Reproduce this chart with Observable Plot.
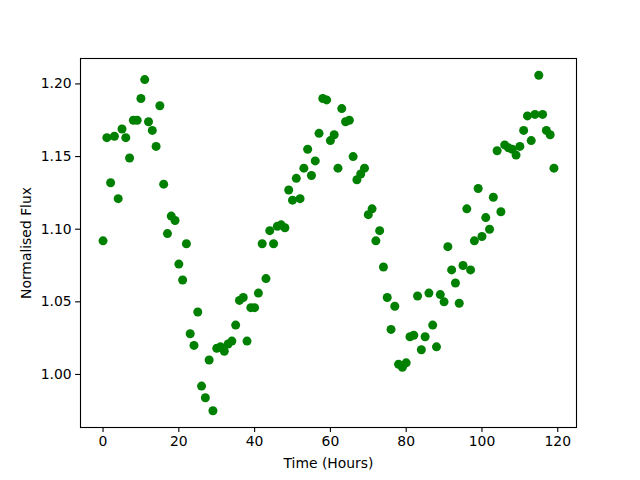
<!DOCTYPE html>
<html>
<head>
<meta charset="utf-8">
<script src="https://cdn.jsdelivr.net/npm/d3@7"></script>
<script src="https://cdn.jsdelivr.net/npm/@observablehq/plot@0.6"></script>
<style>
  html, body { margin: 0; padding: 0; background: #fff; }
</style>
</head>
<body>
<div id="chart"></div>
<script>
const hours = d3.range(0, 120);
const flux = [
  1.092, 1.163, 1.132, 1.164, 1.121, 1.169, 1.163, 1.149, 1.175, 1.175,
  1.190, 1.203, 1.174, 1.168, 1.157, 1.185, 1.131, 1.097, 1.109, 1.106,
  1.076, 1.065, 1.090, 1.028, 1.020, 1.043, 0.992, 0.984, 1.010, 0.975,
  1.018, 1.019, 1.016, 1.021, 1.023, 1.034, 1.051, 1.053, 1.023, 1.046,
  1.046, 1.056, 1.090, 1.066, 1.099, 1.090, 1.102, 1.103, 1.101, 1.127,
  1.120, 1.135, 1.121, 1.142, 1.155, 1.137, 1.147, 1.166, 1.190, 1.189,
  1.161, 1.165, 1.142, 1.183, 1.174, 1.175, 1.150, 1.134, 1.138, 1.142,
  1.110, 1.114, 1.092, 1.099, 1.074, 1.053, 1.031, 1.047, 1.007, 1.005,
  1.008, 1.026, 1.027, 1.054, 1.017, 1.026, 1.056, 1.034, 1.019, 1.055,
  1.050, 1.088, 1.072, 1.063, 1.049, 1.075, 1.114, 1.072, 1.092, 1.128,
  1.095, 1.108, 1.100, 1.122, 1.154, 1.112, 1.158, 1.156, 1.155, 1.151,
  1.157, 1.168, 1.178, 1.161, 1.179, 1.206, 1.179, 1.168, 1.165, 1.142
];
const xTicks = [0, 20, 40, 60, 80, 100, 120];
const yTicks = [1.00, 1.05, 1.10, 1.15, 1.20];
const xLabel = "Time (Hours)";
const yLabel = "Normalised Flux";

const data = hours.map((h, i) => ({hour: h, flux: flux[i]}));

const chart = Plot.plot({
  width: 640,
  height: 480,
  marginLeft: 80,
  marginRight: 64,
  marginTop: 58,
  marginBottom: 53,
  style: {fontFamily: "DejaVu Sans", fontSize: "13.9px", color: "black", background: "white"},
  x: {domain: [-5.95, 124.95]},
  y: {domain: [0.9635, 1.2175]},
  marks: [
    Plot.dot(data, {x: "hour", y: "flux", r: 4.5, fill: "#008000", stroke: "none"}),
    Plot.frame({stroke: "black", strokeWidth: 1.1}),
    Plot.axisX({ticks: xTicks, tickFormat: d => String(d), tickSize: 4.9, tickPadding: 4, strokeWidth: 1.1,
      label: xLabel, labelAnchor: "center", labelArrow: "none", labelOffset: 40, fontSize: "13.9px"}),
    Plot.axisY({ticks: yTicks, tickFormat: d => d.toFixed(2), tickSize: 4.9, tickPadding: 4, strokeWidth: 1.1,
      label: yLabel, labelAnchor: "center", labelArrow: "none", labelOffset: 59, fontSize: "13.9px"})
  ]
});
document.getElementById("chart").appendChild(chart);
</script>
</body>
</html>
